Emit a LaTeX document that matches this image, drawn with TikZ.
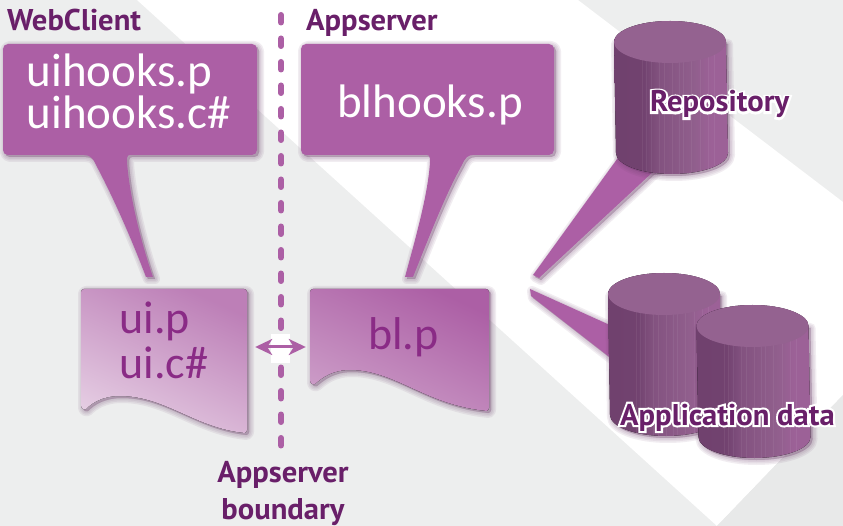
\documentclass[tikz,border=0pt]{standalone}
\usepackage{fontspec}
\usepackage{xcolor}
\usetikzlibrary{positioning, arrows.meta}
\setmainfont{Carlito}
\newfontfamily\titlefont[FakeStretch=1.02]{PT Sans Bold}
\newfontfamily\halofont[FakeStretch=1.02, FakeBold=14]{PT Sans Bold}

\definecolor{bandgray}{HTML}{EDEEEE}
\definecolor{cornergray}{HTML}{E8E9E9}
\definecolor{hookpurple}{HTML}{AC5FA5}
\definecolor{titlepurple}{HTML}{691F69}
\definecolor{docpurple}{HTML}{8A2B86}
\definecolor{shadepurple}{HTML}{6E3F6C}
\definecolor{cyltop}{HTML}{946290}

\pgfdeclarehorizontalshading{cylside}{100bp}{
  color(0bp)=(shadepurple!95!cyltop); color(27bp)=(shadepurple!95!cyltop);
  color(38bp)=(shadepurple!90!cyltop); color(45bp)=(cyltop!55!shadepurple); color(60bp)=(cyltop!90!shadepurple);
  color(68bp)=(hookpurple!35!cyltop); color(76bp)=(hookpurple!35!cyltop); color(100bp)=(hookpurple!15!cyltop)}

\newcommand{\softshadow}[1]{
  \foreach \w in {10,7,4,1}
    \draw[shadepurple, opacity=.09, line width=\w pt, line join=round, fill=shadepurple, shift={(2,2)}] #1;
}
% top centre x, top y, bottom y
\newcommand{\cylinder}[4]{
  \softshadow{(#1-#4,#2) -- (#1-#4+2,#3) arc[start angle=180, end angle=0, x radius=#4, y radius=21] -- (#1+#4,#2) -- cycle}
  \fill[shading=cylside] (#1-#4,#2) -- (#1-#4+2,#3) arc[start angle=180, end angle=0, x radius=#4, y radius=21] -- (#1+#4,#2)
     arc[start angle=0, end angle=-180, x radius=#4, y radius=21] -- cycle;
  \begin{scope}
    \clip (#1-#4,#2) -- (#1-#4+2,#3) arc[start angle=180, end angle=0, x radius=#4, y radius=21] -- (#1+#4,#2) -- cycle;
    \foreach \s in {-28,-24,-19,-11,-6,2,9,13,21,30,38,44}
      \draw[white, opacity=.06, line width=.8pt] (#1+\s,#2) -- (#1+\s,#3+22);
  \end{scope}
  \fill[cyltop] (#1,#2) ellipse[x radius=#4, y radius=21];
}

\tikzset{
  hooktext/.style={text=white, font=\fontsize{47}{42}\selectfont, align=left, inner sep=0pt, anchor=base west},
  doctext/.style={text=docpurple, font=\fontsize{46}{45}\selectfont, align=left, inner sep=0pt, anchor=base west},
  title/.style={text=titlepurple, font=\titlefont\fontsize{30}{37}\selectfont, align=center, inner sep=0pt},
  halo/.style={text=white, font=\halofont\fontsize{30}{37}\selectfont, inner sep=0pt},
  docedge/.style={minimum height=116pt, inner sep=0pt},
  syncarrow/.style={{Stealth[length=17pt, width=16pt, inset=5pt]}-{Stealth[length=17pt, width=16pt, inset=5pt]}, hookpurple, line width=3pt},
  boundary/.style={hookpurple, line width=6pt, line cap=round, dash pattern=on 7.5pt off 16pt}
}

\begin{document}
\begin{tikzpicture}[x=1pt, y=-1pt]
    \useasboundingbox (0,0) rectangle (843,526);
    % background
    \fill[bandgray] (0,0) rectangle (843,526);
    \fill[white] (137,0) -- (578,0) -- (843,202) -- (843,395) -- (717,526) -- cycle;
    \fill[cornergray] (717,526) -- (843,395) -- (843,526) -- cycle;

    % tails of the database callouts
    \softshadow{(533,275) -- (620,155) -- (655,170) -- (539,278) -- cycle}
    \fill[hookpurple] (533,275) -- (620,155) -- (655,170) -- (539,278) -- cycle;
    \softshadow{(530,289) -- (612,326) -- (612,359) -- (531,296) -- cycle}
    \fill[hookpurple] (530,289) -- (612,326) -- (612,359) -- (531,296) -- cycle;

    \cylinder{670}{42}{153}{56}
    \cylinder{664}{294}{415}{56}
    \cylinder{752.5}{326}{437}{56}

    % hook callouts
    \def\uihookpath{(8,44) -- (252,44) arc[start angle=-90, end angle=0, radius=5] -- (257,150) arc[start angle=0, end angle=90, radius=5]
      -- (130,155) .. controls (127,155) and (127,158) .. (127,162) .. controls (130,200) and (142,245) .. (153,277) -- (146,277)
      .. controls (130,235) and (112,195) .. (96,165) .. controls (93,158) and (90,155) .. (84,155)
      -- (8,155) arc[start angle=90, end angle=180, radius=5] -- (3,49) arc[start angle=180, end angle=270, radius=5] -- cycle}
    \def\blhookpath{(306,44) -- (549,44) arc[start angle=-90, end angle=0, radius=5] -- (554,150) arc[start angle=0, end angle=90, radius=5]
      -- (473,155) .. controls (468,155) and (465,158) .. (462,165) .. controls (445,195) and (428,240) .. (413,277) -- (405,277)
      .. controls (415,240) and (428,195) .. (430,162) .. controls (430,158) and (430,155) .. (427,155)
      -- (306,155) arc[start angle=90, end angle=180, radius=5] -- (301,49) arc[start angle=180, end angle=270, radius=5] -- cycle}
    \softshadow{\uihookpath}
    \fill[hookpurple] \uihookpath;
    \softshadow{\blhookpath}
    \fill[hookpurple] \blhookpath;

    % program files
    \def\uidocpath{(84,289) -- (244,289) arc[start angle=-90, end angle=0, radius=3] -- (247,430) arc[start angle=0, end angle=80, radius=3]
      .. controls (195,428) and (165,396) .. (120,396) .. controls (102,396) and (92,403) .. (86,409) .. controls (83,410) and (81,408) .. (81,405) -- (81,292) arc[start angle=180, end angle=270, radius=3] -- cycle}
    \def\bldocpath{(313,289) -- (486,289) arc[start angle=-90, end angle=0, radius=3] -- (489,408) arc[start angle=0, end angle=80, radius=3]
      .. controls (425,405) and (395,370) .. (350,370) .. controls (332,370) and (322,378) .. (315,384) .. controls (312,385) and (310,383) .. (310,380) -- (310,292) arc[start angle=180, end angle=270, radius=3] -- cycle}
    \softshadow{\uidocpath}
    \fill[shading=axis, top color=hookpurple!80!white, bottom color=hookpurple!32!white, shading angle=-25] \uidocpath;
    \softshadow{\bldocpath}
    \fill[shading=axis, top color=hookpurple, bottom color=hookpurple!62!white, shading angle=-25] \bldocpath;

    \node[docedge, minimum width=166pt] (uidoc) at (164,347) {};
    \node[docedge, minimum width=179pt] (bldoc) at (399.5,347) {};

    % labels
    \node[title, anchor=base west] (webclient) at (7,31) {WebClient};
    \node[title, anchor=base west] (appserver) at (306,31) {Appserver};
    \node[hooktext] (uihooks) at (26.5,129) {uihooks.p\\uihooks.c\#};
    \node[hooktext] (blhooks) at (337,118) {blhooks.p};
    \node[doctext] (uitext) at (119.5,378) {ui.p\\ui.c\#};
    \node[doctext] (bltext) at (368,349) {bl.p};
    \node[title, anchor=base] (boundlabel) at (283,519) {Appserver\\boundary};

    \coordinate (boundtop) at (281,15);
    \coordinate (boundfoot) at (281,446);
    \draw[boundary] (boundtop) -- (boundfoot);
    \fill[white] (271,334) rectangle (290,363);
    \draw[syncarrow, shorten <=8pt, shorten >=4pt] (uidoc) -- (bldoc);

    % database captions
    \node[halo, anchor=base west] (repohalo) at (650,112) {Repository};
    \node[title, right=0pt of repohalo.west, anchor=west] (repository) {Repository};
    \node[halo, anchor=base west] (datahalo) at (620,425) {Application data};
    \node[title, right=0pt of datahalo.west, anchor=west] (appdata) {Application data};
  \end{tikzpicture}
\end{document}
